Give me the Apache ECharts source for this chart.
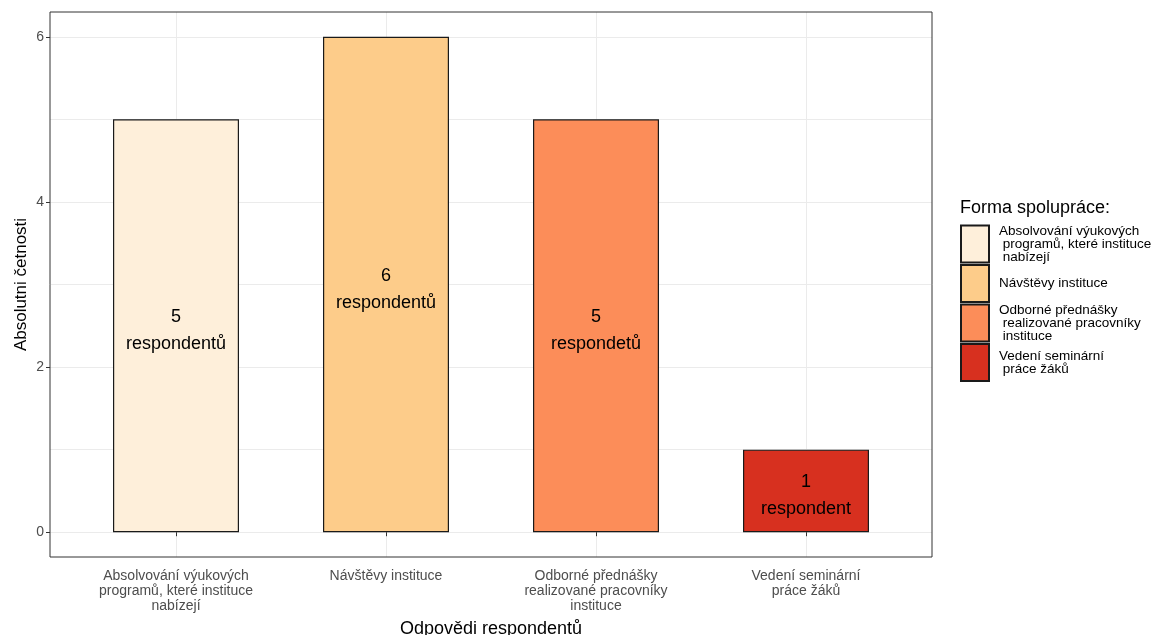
<!DOCTYPE html>
<html>
<head>
<meta charset="utf-8">
<script src="https://cdn.jsdelivr.net/npm/echarts@6/dist/echarts.min.js"></script>
<style>html,body{margin:0;padding:0;background:#fff}#c{width:1172px;height:635px}</style>
</head>
<body>
<div id="c"></div>
<script>
const categories = [
  "Absolvování výukových\nprogramů, které instituce\nnabízejí",
  "Návštěvy instituce",
  "Odborné přednášky\nrealizované pracovníky\ninstituce",
  "Vedení seminární\npráce žáků"
];
const legendNames = [
  "Absolvování výukových\n programů, které instituce\n nabízejí",
  "Návštěvy instituce",
  "Odborné přednášky\n realizované pracovníky\n instituce",
  "Vedení seminární\n práce žáků"
];
const values = [5, 6, 5, 1];
const barLabels = ["5\nrespondentů", "6\nrespondentů", "5\nrespondetů", "1\nrespondent"];
const colors = ["#FEEFDA", "#FDCC8A", "#FC8D59", "#D7301F"];
const yTicks = [0, 2, 4, 6];
const yGrid = [0, 1, 2, 3, 4, 5, 6];
const xPositions = [1, 2, 3, 4];

const FONT = "'Liberation Sans', Arial, sans-serif";
const chart = echarts.init(document.getElementById('c'));

const series = categories.map((c, i) => ({
  name: legendNames[i],
  type: 'bar',
  stack: 'all',
  barWidth: 126,
  z: 3,
  itemStyle: { color: colors[i], borderColor: '#1a1a1a', borderWidth: 1.2 },
  label: {
    show: true, position: 'inside', offset: [0, 5], formatter: barLabels[i],
    fontFamily: FONT, fontSize: 18, color: '#000', lineHeight: 27
  },
  emphasis: { disabled: true },
  data: [[xPositions[i], values[i]]]
}));

series.push({
  type: 'line', data: [], z: 0, zlevel: 0, silent: true,
  markLine: {
    z: 0,
    silent: true, symbol: 'none', label: { show: false },
    lineStyle: { color: '#ebebeb', width: 1, type: 'solid' },
    data: yGrid.map(v => ({ yAxis: v })).concat(xPositions.map(v => ({ xAxis: v })))
  }
});

chart.setOption({
  animation: false,
  textStyle: { fontFamily: FONT },
  grid: { left: 50, right: 240, top: 12, bottom: 78, outerBoundsMode: 'none', containLabel: false, show: true, borderColor: '#333', borderWidth: 1, backgroundColor: 'transparent', z: 4 },
  title: {
    text: 'Forma spolupráce:', left: 960, top: 199, padding: 0,
    textStyle: { fontFamily: FONT, fontSize: 18, fontWeight: 'normal', color: '#000' }
  },
  legend: {
    orient: 'vertical', left: 960, top: 224, padding: 0,
    itemWidth: 28, itemHeight: 37, itemGap: 0,
    icon: 'rect', selectedMode: false,
    textStyle: { fontFamily: FONT, fontSize: 13.5, color: '#000', lineHeight: 13, padding: [0, 0, 0, 5] },
    data: legendNames
  },
  xAxis: {
    type: 'value', min: 0.4, max: 4.6,
    name: 'Odpovědi respondentů', nameLocation: 'middle', nameGap: 63, nameMoveOverlap: false,
    nameTextStyle: { fontFamily: FONT, fontSize: 18, color: '#000' },
    axisLine: { show: false },
    splitLine: { show: false },
    axisTick: { show: true, length: 4, customValues: xPositions, lineStyle: { color: '#333' } },
    axisLabel: {
      customValues: xPositions, margin: 12,
      formatter: v => categories[Math.round(v) - 1] || '',
      fontFamily: FONT, fontSize: 14, color: '#4d4d4d', lineHeight: 15, align: 'center'
    }
  },
  yAxis: {
    type: 'value', min: -0.3, max: 6.3,
    name: 'Absolutni četnosti', nameLocation: 'middle', nameGap: 20, nameRotate: 90, nameMoveOverlap: false,
    nameTextStyle: { fontFamily: FONT, fontSize: 17, color: '#000' },
    axisLine: { show: false },
    splitLine: { show: false },
    axisTick: { show: true, length: 4, customValues: yTicks, lineStyle: { color: '#333' } },
    axisLabel: { customValues: yTicks, margin: 6, fontFamily: FONT, fontSize: 14, color: '#4d4d4d' }
  },
  series: series
});
</script>
</body>
</html>
